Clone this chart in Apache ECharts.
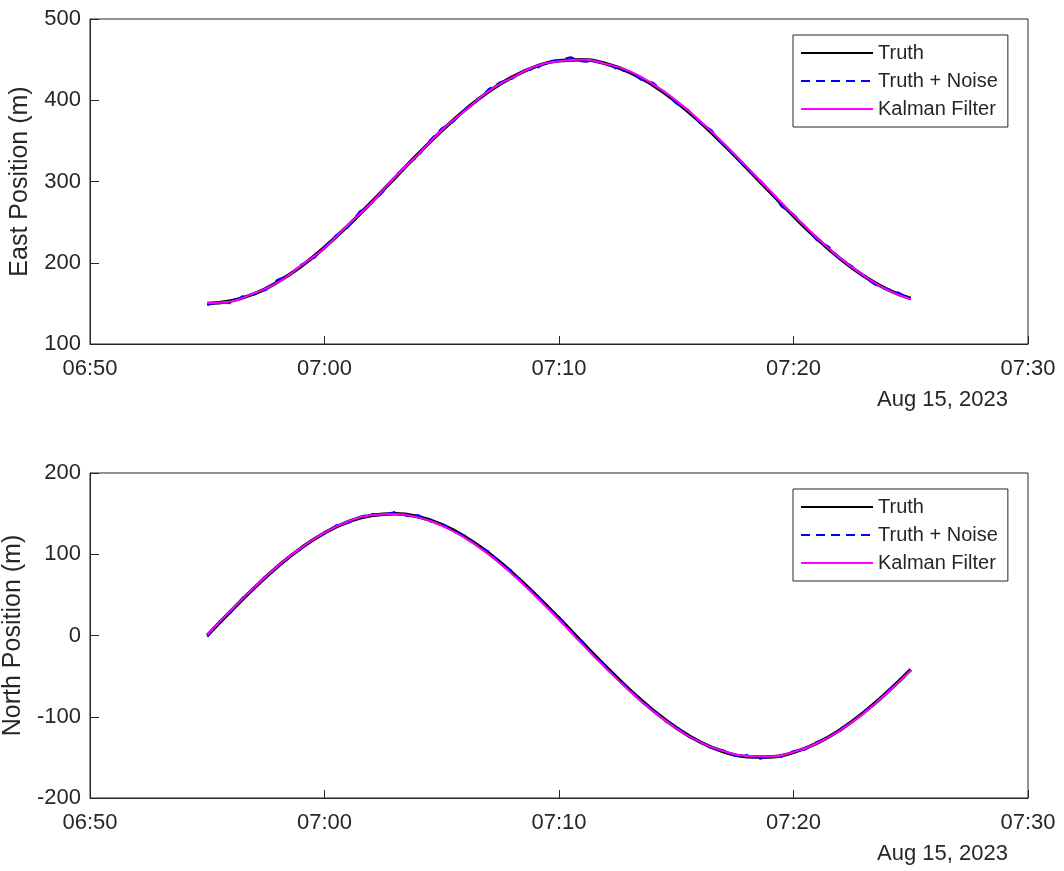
<!DOCTYPE html>
<html>
<head>
<meta charset="utf-8">
<script src="https://cdn.jsdelivr.net/npm/echarts@6/dist/echarts.min.js"></script>
<style>
html,body{margin:0;padding:0;background:#fff;}
#chart{width:1064px;height:871px;}
</style>
</head>
<body>
<div id="chart"></div>
<script>
// x tick labels (axis spans 06:50 .. 07:30, in minutes after 06:50)
const xTickLabels = ['06:50', '07:00', '07:10', '07:20', '07:30'];
const dateLabel = 'Aug 15, 2023';
const seriesNames = ['Truth', 'Truth + Noise', 'Kalman Filter'];

// sample times (minutes after 06:50)
const timesFine = [];   // every 30 s from 06:55 to 07:25
for (let i = 0; i <= 60; i++) timesFine.push(5 + i * 0.5);
const timesCoarse = []; // every 1 min from 06:55 to 07:25
for (let i = 0; i <= 30; i++) timesCoarse.push(5 + i);

// East position (m)
const eastTruth = [150.0,153.0,161.8,176.2,195.5,219.0,245.6,274.5,304.4,334.1,362.4,388.3,410.6,428.5,441.3,448.5,449.7,445.0,434.6,418.7,398.1,373.5,346.1,316.8,287.0,257.5,229.7,204.7,183.6,167.1,156.0];
const eastNoise = [148.0,151.7,150.0,158.7,161.8,166.4,179.2,184.3,197.5,203.8,220.0,233.9,243.6,262.9,273.5,287.4,306.4,320.3,331.1,350.5,365.4,373.7,389.3,398.9,413.6,422.2,426.5,436.6,438.3,447.7,449.5,452.9,447.7,447.1,447.0,437.5,435.6,425.2,421.7,409.9,396.1,388.3,372.5,363.2,344.1,332.6,314.8,303.9,288.0,268.9,259.5,244.3,227.7,219.9,203.7,195.7,182.6,172.7,168.1,162.9,155.0];
const eastKalman = [150.5,152.4,162.6,175.4,196.4,218.3,246.5,273.8,305.3,333.5,363.0,387.6,411.2,427.9,441.9,448.0,450.2,444.6,435.8,419.9,399.5,374.8,347.4,318.0,288.3,258.6,230.8,205.4,184.2,166.6,155.4];

// North position (m)
const northTruth = [0.0,29.8,58.4,84.7,107.6,126.2,139.8,147.8,149.9,146.1,136.4,121.3,101.3,77.3,50.2,21.2,-8.8,-38.4,-66.4,-91.8,-113.5,-130.8,-142.8,-149.1,-149.4,-143.8,-132.5,-115.9,-94.6,-69.7,-41.9];
const northNoise = [-1.5,16.5,28.0,46.3,57.4,73.9,83.2,98.1,106.0,119.0,125.2,135.7,138.3,146.0,149.8,148.1,151.9,147.2,148.1,140.4,138.4,127.5,122.8,110.4,103.3,88.3,79.3,62.6,51.7,34.4,23.2,4.7,-7.3,-25.7,-36.9,-54.6,-64.9,-81.5,-90.3,-105.2,-111.5,-124.7,-129.3,-139.5,-141.3,-148.2,-147.1,-152.5,-148.4,-149.4,-142.3,-140.4,-131.0,-126.3,-114.4,-107.3,-93.1,-84.1,-68.2,-57.6,-43.4];
const northKalman = [0.8,30.6,58.9,85.3,107.9,126.5,140.3,148.1,149.5,145.4,135.3,119.9,99.8,75.6,48.4,19.3,-10.9,-40.3,-68.0,-93.0,-114.2,-131.0,-142.3,-148.3,-148.8,-143.5,-132.6,-116.4,-95.5,-70.5,-42.8];

const eastTicks = [100, 200, 300, 400, 500];
const northTicks = [-200, -100, 0, 100, 200];

const pair = (xs, ys) => ys.map((y, i) => [xs[i], y]);

const FONT = 'Liberation Sans, Arial, Helvetica, sans-serif';
const AX = '#262626';

function xAxisCfg(gi) {
  return {
    type: 'value', gridIndex: gi, min: 0, max: 40, interval: 10,
    axisLine: { show: true, onZero: false, lineStyle: { color: AX, width: 1 } },
    axisTick: { show: true, inside: true, length: 8, lineStyle: { color: AX } },
    axisLabel: { color: AX, fontSize: 22, fontFamily: FONT, margin: 14,
      formatter: v => xTickLabels[Math.round(v / 10)] },
    splitLine: { show: false }
  };
}
function yAxisCfg(gi, ticks, name) {
  return {
    type: 'value', gridIndex: gi, min: ticks[0], max: ticks[ticks.length - 1], interval: 100,
    name: name, nameLocation: 'middle', nameGap: 57,
    nameTextStyle: { color: AX, fontSize: 25, fontFamily: FONT },
    axisLine: { show: true, onZero: false, lineStyle: { color: AX, width: 1 } },
    axisTick: { show: true, inside: true, length: 9, lineStyle: { color: AX } },
    axisLabel: { color: AX, fontSize: 22, fontFamily: FONT, margin: 9 },
    splitLine: { show: false }
  };
}
function seriesFor(gi, truth, noise, kalman) {
  return [
    { name: seriesNames[0], type: 'line', xAxisIndex: gi, yAxisIndex: gi, data: pair(timesCoarse, truth),
      smooth: true, symbol: 'none', lineStyle: { color: '#000000', width: 3.5 }, itemStyle: { color: '#000000' }, z: 2 },
    { name: seriesNames[1], type: 'line', xAxisIndex: gi, yAxisIndex: gi, data: pair(timesFine, noise),
      symbol: 'none', lineStyle: { color: '#0000ff', width: 2, type: [9, 6] }, itemStyle: { color: '#0000ff' }, z: 3 },
    { name: seriesNames[2], type: 'line', xAxisIndex: gi, yAxisIndex: gi, data: pair(timesCoarse, kalman),
      smooth: true, symbol: 'none', lineStyle: { color: '#ff00ff', width: 2 }, itemStyle: { color: '#ff00ff' }, z: 4 }
  ];
}
function legendCfg(top) {
  return {
    data: seriesNames, orient: 'vertical', left: 793, top: top,
    width: 216,
    itemWidth: 72, itemHeight: 14, itemGap: 8,
    padding: [8, 10, 8, 7],
    borderColor: AX, borderWidth: 1, backgroundColor: '#ffffff',
    itemStyle: { opacity: 0 },
    textStyle: { color: AX, fontSize: 20, fontFamily: FONT, lineHeight: 20 },
    selectedMode: false
  };
}

const chart = echarts.init(document.getElementById('chart'), null, { renderer: 'canvas' });
chart.setOption({
  animation: false,
  backgroundColor: '#ffffff',
  grid: [
    { left: 90, right: 36, top: 19, height: 325, outerBoundsMode: 'none', containLabel: false, show: true, borderColor: AX, borderWidth: 1, backgroundColor: 'transparent' },
    { left: 90, right: 36, top: 473, height: 325, outerBoundsMode: 'none', containLabel: false, show: true, borderColor: AX, borderWidth: 1, backgroundColor: 'transparent' }
  ],
  xAxis: [xAxisCfg(0), xAxisCfg(1)],
  yAxis: [yAxisCfg(0, eastTicks, 'East Position (m)'), yAxisCfg(1, northTicks, 'North Position (m)')],
  legend: [legendCfg(35), legendCfg(489)],
  graphic: [
    { type: 'text', right: 56, top: 389, style: { text: dateLabel, fill: AX, fontSize: 22, fontFamily: FONT } },
    { type: 'text', right: 56, top: 843, style: { text: dateLabel, fill: AX, fontSize: 22, fontFamily: FONT } }
  ],
  series: [].concat(
    seriesFor(0, eastTruth, eastNoise, eastKalman),
    seriesFor(1, northTruth, northNoise, northKalman)
  )
});
</script>
</body>
</html>
